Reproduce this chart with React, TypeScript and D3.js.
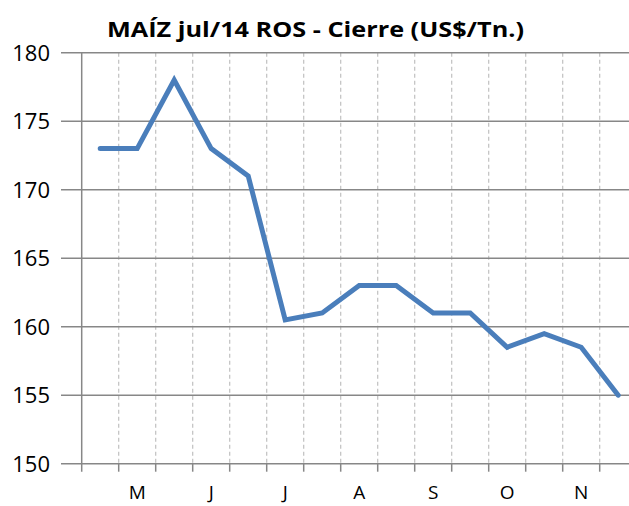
import React from "react";
import * as d3 from "d3";

const categories = ["", "M", "", "J", "", "J", "", "A", "", "S", "", "O", "", "N", ""];
const values = [173, 173, 178, 173, 171, 160.5, 161, 163, 163, 161, 161, 158.5, 159.5, 158.5, 155];
const yTicks = [150, 155, 160, 165, 170, 175, 180];
const title = "MAÍZ jul/14 ROS - Cierre (US$/Tn.)";

export default function App() {
  const W = 629, H = 506;
  const left = 81.7, top = 52.7, bottom = 463.7;
  const step = 37;
  const idx = categories.map((_, i) => String(i));
  const x = d3.scaleBand<string>().domain(idx).range([left, left + step * categories.length]).padding(0);
  const y = d3.scaleLinear().domain([150, 180]).range([bottom, top]);
  const line = d3.line<number>()
    .x((_, i) => (x(String(i)) as number) + x.bandwidth() / 2)
    .y((d) => y(d));
  const font = "'Open Sans', sans-serif";
  return (
    <svg width={W} height={H} style={{ position: "absolute", left: 0, top: 0, background: "#fff" }}>
      <text x={107} y={37} fontFamily={font} fontWeight="bold" fontSize={21.5} fill="#000"
        textLength={417} lengthAdjust="spacingAndGlyphs">
        {title}
      </text>
      {categories.map((_, i) =>
        i === 0 ? null : (
          <line key={"v" + i} x1={x(String(i))} x2={x(String(i))} y1={top} y2={bottom}
            stroke="#c0c0c0" strokeWidth={1.2} strokeDasharray="4,3" />
        )
      )}
      {yTicks.map((t) => (
        <g key={"h" + t}>
          <line x1={61} x2={W} y1={y(t)} y2={y(t)} stroke="#878787" strokeWidth={1.5} />
          <text x={50} y={y(t)} dy="0.36em" textAnchor="end" fontFamily={font} fontSize={22} fill="#000">{t}</text>
        </g>
      ))}
      <line x1={left} x2={left} y1={top} y2={bottom + 8} stroke="#878787" strokeWidth={1.5} />
      {categories.map((_, i) =>
        i === 0 ? null : (
          <line key={"t" + i} x1={x(String(i))} x2={x(String(i))} y1={bottom} y2={bottom + 8}
            stroke="#878787" strokeWidth={1.5} />
        )
      )}
      {categories.map((c, i) =>
        c ? (
          <text key={"c" + i} x={(x(String(i)) as number) + x.bandwidth() / 2} y={499} textAnchor="middle"
            fontFamily={font} fontSize={19} fill="#000">{c}</text>
        ) : null
      )}
      <path d={line(values) || ""} fill="none" stroke="#4a7ebb" strokeWidth={5} strokeLinejoin="miter" strokeLinecap="round" />
    </svg>
  );
}
